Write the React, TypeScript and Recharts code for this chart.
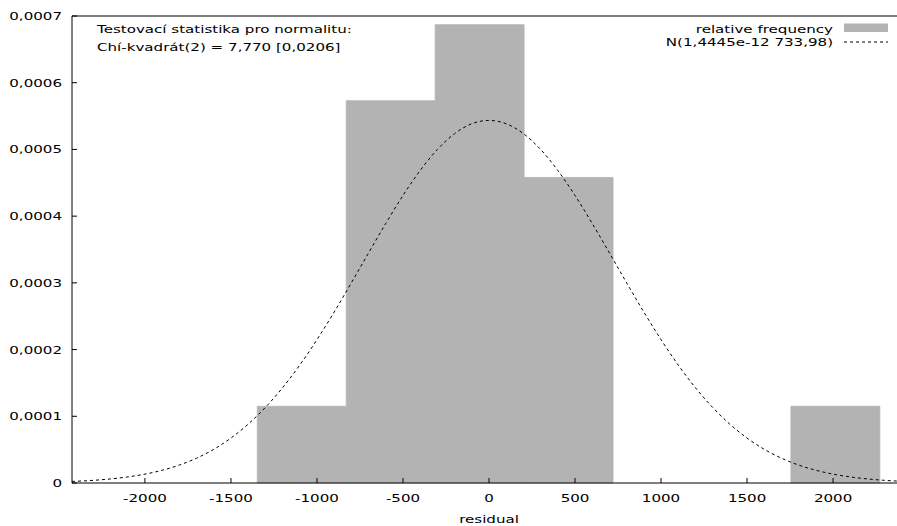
import React from "react";
import {
  ComposedChart,
  Line,
  XAxis,
  YAxis,
  ReferenceArea,
} from "recharts";

// histogram bins (left edges, right edges) and relative frequency
const binStart = [-1347, -830, -313, 204, 1755];
const binEnd = [-830, -313, 204, 721, 2272];
const binDensity = [0.000115, 0.000573, 0.000687, 0.000458, 0.000115];

// fitted normal density
const curveX = [
  -2424, -2400, -2300, -2200, -2100, -2000, -1900, -1800, -1700, -1600, -1500,
  -1400, -1300, -1200, -1100, -1000, -900, -800, -700, -600, -500, -400, -300,
  -200, -100, 0, 100, 200, 300, 400, 500, 600, 700, 800, 900, 1000, 1100, 1200,
  1300, 1400, 1500, 1600, 1700, 1800, 1900, 2000, 2100, 2200, 2300, 2400, 2424,
];
const curveY = [
  0.0000024, 0.0000026, 0.000004, 0.0000061, 0.0000091, 0.0000133, 0.0000191,
  0.0000269, 0.0000372, 0.0000505, 0.0000674, 0.0000882, 0.0001133, 0.0001428,
  0.0001768, 0.0002149, 0.0002563, 0.0003001, 0.0003449, 0.0003891, 0.000431,
  0.0004685, 0.0005, 0.0005237, 0.0005385, 0.0005435, 0.0005385, 0.0005237,
  0.0005, 0.0004685, 0.000431, 0.0003891, 0.0003449, 0.0003001, 0.0002563,
  0.0002149, 0.0001768, 0.0001428, 0.0001133, 0.0000882, 0.0000674, 0.0000505,
  0.0000372, 0.0000269, 0.0000191, 0.0000133, 0.0000091, 0.0000061, 0.000004,
  0.0000026, 0.0000024,
];

const xTicks = [-2000, -1500, -1000, -500, 0, 500, 1000, 1500, 2000];
const yTicks = [0, 0.0001, 0.0002, 0.0003, 0.0004, 0.0005, 0.0006, 0.0007];

const FONT = "'DejaVu Sans', Verdana, sans-serif";
const FS = 11;
const SX = 1.37; // the reference's text is stretched sideways

const fmtY = (v: number) => (v === 0 ? "0" : v.toFixed(4).replace(".", ","));

const YTick = (props: any) => {
  const { x, y, payload } = props;
  return (
    <text
      transform={`translate(${x},${y + 4}) scale(${SX},1)`}
      textAnchor="end"
      fontSize={FS}
      fontFamily={FONT}
      fill="#000"
    >
      {fmtY(payload.value)}
    </text>
  );
};

const XTick = (props: any) => {
  const { x, y, payload } = props;
  return (
    <text
      transform={`translate(${x},${y + 11}) scale(${SX},1)`}
      textAnchor="middle"
      fontSize={FS}
      fontFamily={FONT}
      fill="#000"
    >
      {payload.value}
    </text>
  );
};

const XLabel = (props: any) => {
  const vb = props.viewBox || {};
  return (
    <text
      transform={`translate(${vb.x + vb.width / 2},${vb.y + 40}) scale(${SX},1)`}
      textAnchor="middle"
      fontSize={FS}
      fontFamily={FONT}
      fill="#000"
    >
      residual
    </text>
  );
};

export default function App() {
  const data = curveX.map((x, i) => ({ x, y: curveY[i] }));

  return (
    <div
      style={{
        position: "absolute",
        left: 0,
        top: 0,
        width: 897,
        height: 526,
        overflow: "hidden",
        background: "#fff",
        fontFamily: FONT,
      }}
    >
      <ComposedChart
        width={906}
        height={526}
        data={data}
        margin={{ top: 0, right: 0, left: 0, bottom: 0 }}
      >
        <XAxis
          xAxisId="top"
          orientation="top"
          type="number"
          dataKey="x"
          domain={[-2424, 2424]}
          ticks={xTicks}
          allowDataOverflow
          height={16}
          tick={false}
          tickSize={-5}
          stroke="#000"
        />
        <XAxis
          type="number"
          dataKey="x"
          domain={[-2424, 2424]}
          ticks={xTicks}
          allowDataOverflow
          height={43}
          tick={<XTick />}
          tickSize={-5}
          tickMargin={13}
          stroke="#000"
          label={<XLabel />}
        />
        <YAxis
          type="number"
          domain={[0, 0.0007]}
          ticks={yTicks}
          width={72}
          tick={<YTick />}
          tickSize={-5}
          tickMargin={15}
          stroke="#000"
        />
        {binStart.map((s, i) => (
          <ReferenceArea
            key={`bin-${i}`}
            x1={s}
            x2={binEnd[i]}
            y1={0}
            y2={binDensity[i]}
            fill="#b3b3b3"
            fillOpacity={1}
            stroke="#b3b3b3"
            strokeWidth={0.8}
          />
        ))}
        <Line
          type="monotone"
          dataKey="y"
          stroke="#000"
          strokeWidth={1}
          strokeDasharray="3 3"
          dot={false}
          isAnimationActive={false}
        />
      </ComposedChart>

      <div
        style={{
          position: "absolute",
          left: 97,
          top: 21,
          fontSize: FS,
          lineHeight: "18px",
          color: "#000",
          whiteSpace: "nowrap",
          transform: `scaleX(${SX})`,
          transformOrigin: "left top",
        }}
      >
        <div>Testovací statistika pro normalitu:</div>
        <div>Chí-kvadrát(2) = 7,770 [0,0206]</div>
      </div>

      <div
        style={{
          position: "absolute",
          right: 64,
          top: 22.5,
          fontSize: FS,
          lineHeight: "13.5px",
          color: "#000",
          textAlign: "right",
          whiteSpace: "nowrap",
          transform: `scaleX(${SX})`,
          transformOrigin: "right top",
        }}
      >
        <div>relative frequency</div>
        <div>N(1,4445e-12 733,98)</div>
      </div>
      <svg
        width={50}
        height={30}
        style={{ position: "absolute", left: 844, top: 20 }}
      >
        <rect x={0} y={3.5} width={44} height={8.5} fill="#b3b3b3" />
        <line
          x1={0}
          y1={22}
          x2={44}
          y2={22}
          stroke="#000"
          strokeWidth={1}
          strokeDasharray="3 3"
        />
      </svg>
    </div>
  );
}
